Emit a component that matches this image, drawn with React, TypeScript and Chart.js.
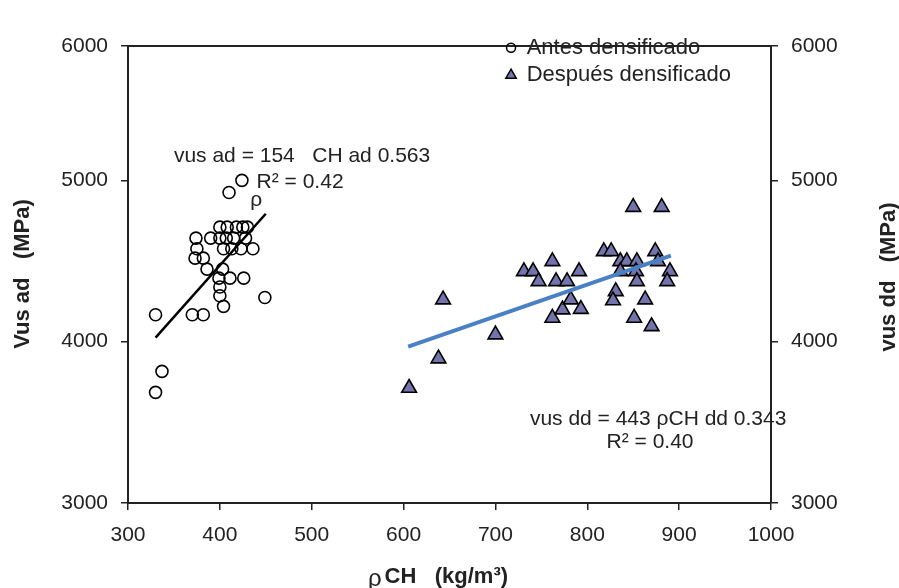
import React, { useEffect, useRef } from 'react';
import { Chart, registerables } from 'chart.js';

Chart.register(...registerables);

const FONT = '"Liberation Sans", Arial, Helvetica, sans-serif';
const TEXT = '#222222';

// ---- data ----
const xTickValues = [300, 400, 500, 600, 700, 800, 900, 1000];
const xTickLabels = ['300', '400', '500', '600', '700', '800', '900', '1000'];
const yTickValues = [3000, 4000, 5000, 5833];
const yTickLabels = ['3000', '4000', '5000', '6000'];

// Antes densificado (circles)
const adDensity = [424, 410, 400, 408, 418, 425, 430, 374, 390, 400, 407, 415, 428, 375, 404, 413, 423, 436, 373, 382, 386, 403, 399, 411, 426, 400, 400, 449, 404, 330, 370, 382, 337, 330];
const adVus = [5000, 4925, 4710, 4710, 4710, 4710, 4710, 4642, 4642, 4642, 4642, 4642, 4642, 4576, 4576, 4576, 4576, 4576, 4518, 4518, 4450, 4450, 4394, 4394, 4394, 4339, 4285, 4274, 4219, 4167, 4167, 4167, 3816, 3686];

// Después densificado (triangles)
const ddDensity = [606, 638, 643, 700, 731, 741, 747, 762, 766, 778, 791, 762, 773, 782, 793, 818, 826, 836, 843, 854, 836, 853, 854, 831, 828, 863, 851, 870, 850, 881, 874, 877, 890, 887];
const ddVus = [3713, 3895, 4261, 4044, 4436, 4436, 4374, 4498, 4374, 4374, 4436, 4147, 4199, 4261, 4202, 4560, 4560, 4498, 4498, 4498, 4436, 4436, 4374, 4312, 4255, 4261, 4147, 4095, 4834, 4834, 4560, 4498, 4436, 4374];

// trend lines (end points)
const adTrendX = [330, 450];
const adTrendY = [4025, 4793];
const ddTrendX = [605, 891];
const ddTrendY = [3970, 4533];

const legendLabels = ['Antes densificado', 'Después densificado'];
const eqAd = 'vus ad = 154   CH ad 0.563';
const r2Ad = 'R² = 0.42';
const rhoAd = 'ρ';
const eqDd = 'vus dd = 443 ρCH dd 0.343';
const r2Dd = 'R² = 0.40';
const yLeftTitle = 'Vus ad   (MPa)';
const yRightTitle = 'vus dd   (MPa)';
const xTitleRho = 'ρ';
const xTitleRest = 'CH   (kg/m³)';

const toPts = (xs: number[], ys: number[]) => xs.map((v, i) => ({ x: v, y: ys[i] }));

const overlay = {
  id: 'overlay',
  afterDraw(chart: any) {
    const { ctx, chartArea } = chart;
    const x = chart.scales.x;
    const y = chart.scales.y;
    const px = (v: number) => x.getPixelForValue(v);
    const py = (v: number) => y.getPixelForValue(v);
    ctx.save();
    // top border
    ctx.strokeStyle = TEXT;
    ctx.lineWidth = 2;
    ctx.beginPath();
    ctx.moveTo(chartArea.left - 1, chartArea.top);
    ctx.lineTo(chartArea.right + 1, chartArea.top);
    ctx.stroke();

    ctx.fillStyle = TEXT;
    ctx.textBaseline = 'middle';
    ctx.textAlign = 'left';
    ctx.font = `21px ${FONT}`;
    ctx.fillText(eqAd, px(350), py(5152));
    ctx.fillText(r2Ad, px(440), py(4991));
    ctx.fillText(rhoAd, px(433), py(4879));
    ctx.fillText(eqDd, px(737.5), py(3517));
    ctx.fillText(r2Dd, px(821), py(3375));

    // legend
    const lx = px(717);
    const ly1 = py(5822);
    const ly2 = py(5652);
    ctx.font = `22px ${FONT}`;
    ctx.lineWidth = 1.5;
    ctx.strokeStyle = '#000';
    ctx.beginPath();
    ctx.arc(lx, ly1, 4.5, 0, Math.PI * 2);
    ctx.stroke();
    ctx.beginPath();
    const r = 6;
    ctx.moveTo(lx, ly2 - r);
    ctx.lineTo(lx + r * 0.866, ly2 + r * 0.5);
    ctx.lineTo(lx - r * 0.866, ly2 + r * 0.5);
    ctx.closePath();
    ctx.fillStyle = '#7474ad';
    ctx.fill();
    ctx.stroke();
    ctx.fillStyle = TEXT;
    ctx.fillText(legendLabels[0], px(734), ly1);
    ctx.fillText(legendLabels[1], px(734), ly2);

    // axis titles
    ctx.font = `bold 22px ${FONT}`;
    ctx.textAlign = 'center';
    ctx.save();
    ctx.translate(23, 274);
    ctx.rotate(-Math.PI / 2);
    ctx.fillText(yLeftTitle, 0, 0);
    ctx.restore();
    ctx.save();
    ctx.translate(889, 277);
    ctx.rotate(-Math.PI / 2);
    ctx.fillText(yRightTitle, 0, 0);
    ctx.restore();

    // x title: regular rho + bold rest
    ctx.textAlign = 'left';
    ctx.font = `24px ${FONT}`;
    const w1 = ctx.measureText(xTitleRho).width;
    ctx.font = `bold 22px ${FONT}`;
    const w2 = ctx.measureText(xTitleRest).width;
    const gap = 3;
    const total = w1 + gap + w2;
    const sx = 438 - total / 2;
    ctx.font = `24px ${FONT}`;
    ctx.fillText(xTitleRho, sx, 579);
    ctx.font = `bold 22px ${FONT}`;
    ctx.fillText(xTitleRest, sx + w1 + gap, 577);
    ctx.restore();
  },
};

const axisCommon = {
  grid: { display: true, drawOnChartArea: false, drawTicks: true, tickLength: 7, color: TEXT, lineWidth: 1.5 },
  border: { display: true, color: TEXT, width: 2 },
  title: { display: false },
};

export default function App() {
  const ref = useRef<HTMLCanvasElement>(null);
  useEffect(() => {
    if (!ref.current) return;
    const yScale = (position: string) => ({
      type: 'linear',
      position,
      min: 3000,
      max: 5833,
      ...axisCommon,
      afterBuildTicks: (s: any) => {
        s.ticks = yTickValues.map((v) => ({ value: v }));
      },
      afterFit: (s: any) => {
        s.width = 128;
      },
      ticks: {
        color: TEXT,
        font: { size: 21, family: FONT },
        padding: 13,
        callback: (v: number) => yTickLabels[yTickValues.indexOf(v)] ?? '',
      },
    });
    const chart = new Chart(ref.current, {
      type: 'scatter',
      data: {
        datasets: [
          {
            label: 'trend ad',
            type: 'line',
            data: toPts(adTrendX, adTrendY),
            borderColor: '#000',
            borderWidth: 2.5,
            pointRadius: 0,
            fill: false,
            order: 0,
          },
          {
            label: 'trend dd',
            type: 'line',
            data: toPts(ddTrendX, ddTrendY),
            borderColor: '#4a80c4',
            borderWidth: 4,
            pointRadius: 0,
            fill: false,
            order: 0,
          },
          {
            label: legendLabels[0],
            data: toPts(adDensity, adVus),
            pointStyle: 'circle',
            pointRadius: 6,
            pointBorderWidth: 1.6,
            borderColor: '#000',
            backgroundColor: 'rgba(255,255,255,0)',
            order: 1,
          },
          {
            label: legendLabels[1],
            data: toPts(ddDensity, ddVus),
            pointStyle: 'triangle',
            pointRadius: 8.5,
            pointBorderWidth: 1.6,
            borderColor: '#000',
            backgroundColor: '#7474ad',
            order: 1,
          },
        ],
      },
      options: {
        animation: false,
        responsive: false,
        layout: { padding: { top: 46, left: 0, right: 0, bottom: 0 } },
        plugins: { legend: { display: false }, tooltip: { enabled: false } },
        scales: {
          x: {
            type: 'linear',
            min: 300,
            max: 1000,
            ...axisCommon,
            afterBuildTicks: (s: any) => {
              s.ticks = xTickValues.map((v) => ({ value: v }));
            },
            afterFit: (s: any) => {
              s.height = 85;
            },
            ticks: {
              color: TEXT,
              font: { size: 21, family: FONT },
              padding: 13,
              callback: (v: number) => xTickLabels[xTickValues.indexOf(v)] ?? '',
            },
          },
          y: yScale('left'),
          y2: yScale('right'),
        },
      } as any,
      plugins: [overlay],
    } as any);
    return () => chart.destroy();
  }, []);
  return (
    <div style={{ position: 'absolute', left: 0, top: 0, width: 899, height: 588, background: '#fff' }}>
      <canvas ref={ref} width={899} height={588} style={{ display: 'block' }} />
    </div>
  );
}
